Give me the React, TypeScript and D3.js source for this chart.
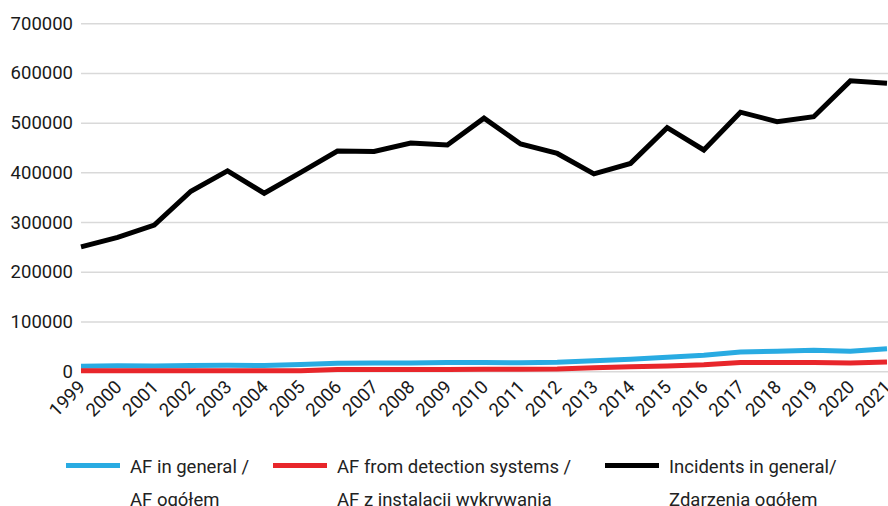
import React from "react";
import * as d3 from "d3";

const years = ["1999","2000","2001","2002","2003","2004","2005","2006","2007","2008","2009","2010","2011","2012","2013","2014","2015","2016","2017","2018","2019","2020","2021"];
const afGeneral = [11000,12000,11500,12500,13000,12500,14500,17000,17500,17500,18500,18500,18000,19000,22000,25000,29000,33000,39500,41000,43000,41000,46000];
const afDetection = [2000,2000,2000,2000,2000,2000,2000,4500,4500,4500,4500,5000,5000,5200,7800,9800,11300,14000,18500,18500,18500,17300,19300];
const incidents = [251000,270000,295000,363000,404000,359000,401000,444000,443000,460000,456000,510000,458000,439000,398000,419000,491000,446000,522000,503000,513000,585000,580000];
const yTicks = [0,100000,200000,300000,400000,500000,600000,700000];

const seriesNames = [
  ["AF in general /", "AF ogółem"],
  ["AF from detection systems /", "AF z instalacji wykrywania"],
  ["Incidents in general/", "Zdarzenia ogółem"],
];
const seriesColors = ["#29abe2", "#e8262b", "#000000"];

const W = 888, H = 506;
const FONT = "Roboto, 'Noto Sans', sans-serif";

export default function App() {
  const x = d3.scalePoint<string>().domain(years).range([81, 887]);
  const y = d3.scaleLinear().domain([0, 700000]).range([371.7, 23.7]);
  const line = d3.line<number>().x((_, i) => x(years[i]) as number).y((d) => y(d));
  const data = [afGeneral, afDetection, incidents];
  const legendX = [66, 273, 605];

  return (
    <div style={{ position: "absolute", left: 0, top: 0 }}>
      <svg width={W} height={H} style={{ display: "block" }}>
        <rect width={W} height={H} fill="#fff" />
        {yTicks.map((t) => (
          <g key={t}>
            <line x1={81} x2={888} y1={y(t)} y2={y(t)} stroke="#d9d9d9" strokeWidth={1.5} />
            <text x={73} y={y(t)} textAnchor="end" dominantBaseline="central" fontFamily={FONT} fontSize={18.5} fill="#1a1a1a">{t}</text>
          </g>
        ))}
        {years.map((yr) => (
          <text key={yr} transform={`translate(${(x(yr) as number) + 1},${384}) rotate(-45)`} textAnchor="end" dominantBaseline="central" fontFamily={FONT} fontSize={18.5} fill="#1a1a1a">{yr}</text>
        ))}
        {data.map((d, i) => (
          <path key={i} d={line(d) || ""} fill="none" stroke={seriesColors[i]} strokeWidth={5} strokeLinejoin="miter" />
        ))}
        {seriesNames.map((nm, i) => (
          <g key={i}>
            <line x1={legendX[i]} x2={legendX[i] + 54} y1={465.5} y2={465.5} stroke={seriesColors[i]} strokeWidth={5} />
            <text x={legendX[i] + 64} y={473.3} fontFamily={FONT} fontSize={18.5} fill="#222">{nm[0]}</text>
            <text x={legendX[i] + 64} y={505.5} fontFamily={FONT} fontSize={18.5} fill="#222">{nm[1]}</text>
          </g>
        ))}
      </svg>
    </div>
  );
}
